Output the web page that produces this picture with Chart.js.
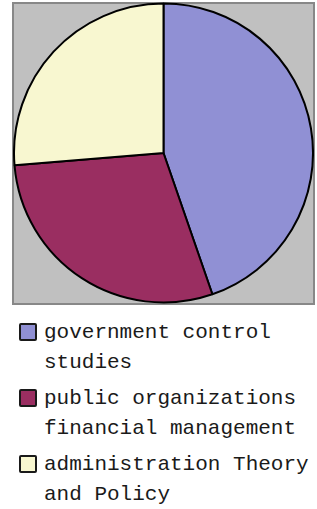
<!DOCTYPE html>
<html>
<head>
<meta charset="utf-8">
<script src="https://cdn.jsdelivr.net/npm/chart.js@4.4.1/dist/chart.umd.min.js"></script>
<style>
    body { margin: 0; background: #ffffff; width: 317px; height: 509px; overflow: hidden; position: relative; }
    .plot-box {
        position: absolute; left: 12px; top: 2px; width: 303px; height: 303px;
        box-sizing: border-box; background: #c0c0c0; border: 2px solid #888888;
    }
    .chart { position: absolute; left: 13px; top: 2px; width: 301px; height: 302px; }
    .legend { position: absolute; left: 18px; top: 318px; margin: 0; padding: 0; list-style: none;
        font-family: "Liberation Mono", "DejaVu Sans Mono", monospace; font-size: 21px; color: #1a1a1a; }
    .legend li { position: relative; padding-left: 26px; line-height: 30px; margin-bottom: 6px; }
    .legend .swatch { position: absolute; left: 1px; top: 5px; width: 14px; height: 14px;
        border: 2px solid #1a1a1a; border-radius: 2px; }
</style>
</head>
<body>
<div class="plot-box"></div>
<div class="chart"><canvas id="pie"></canvas></div>
<ul class="legend"></ul>
<script>
const labels = ["government control studies", "public organizations financial management", "administration Theory and Policy"];
const legendLines = [["government control", "studies"], ["public organizations", "financial management"], ["administration Theory", "and Policy"]];
const values = [44.7, 29.0, 26.3];
const colors = ["#9090d4", "#9a2e61", "#f8f7d0"];

// legend as html so each entry can wrap onto two lines
const legendElem = document.querySelector(".legend");
legendElem.innerHTML = legendLines.map((lines, i) =>
    `<li><span class="swatch" style="background:${colors[i]}"></span>${lines.join("<br>")}</li>`
).join("");

new Chart("pie", {
    type: "pie",
    data: {
        labels: labels,
        datasets: [{
            data: values,
            backgroundColor: colors,
            borderColor: "#000000",
            borderWidth: 2
        }]
    },
    options: {
        responsive: true,
        maintainAspectRatio: false,
        animation: false,
        layout: { padding: 0 },
        plugins: {
            legend: { display: false },
            tooltip: { enabled: false }
        }
    }
});
</script>
</body>
</html>
